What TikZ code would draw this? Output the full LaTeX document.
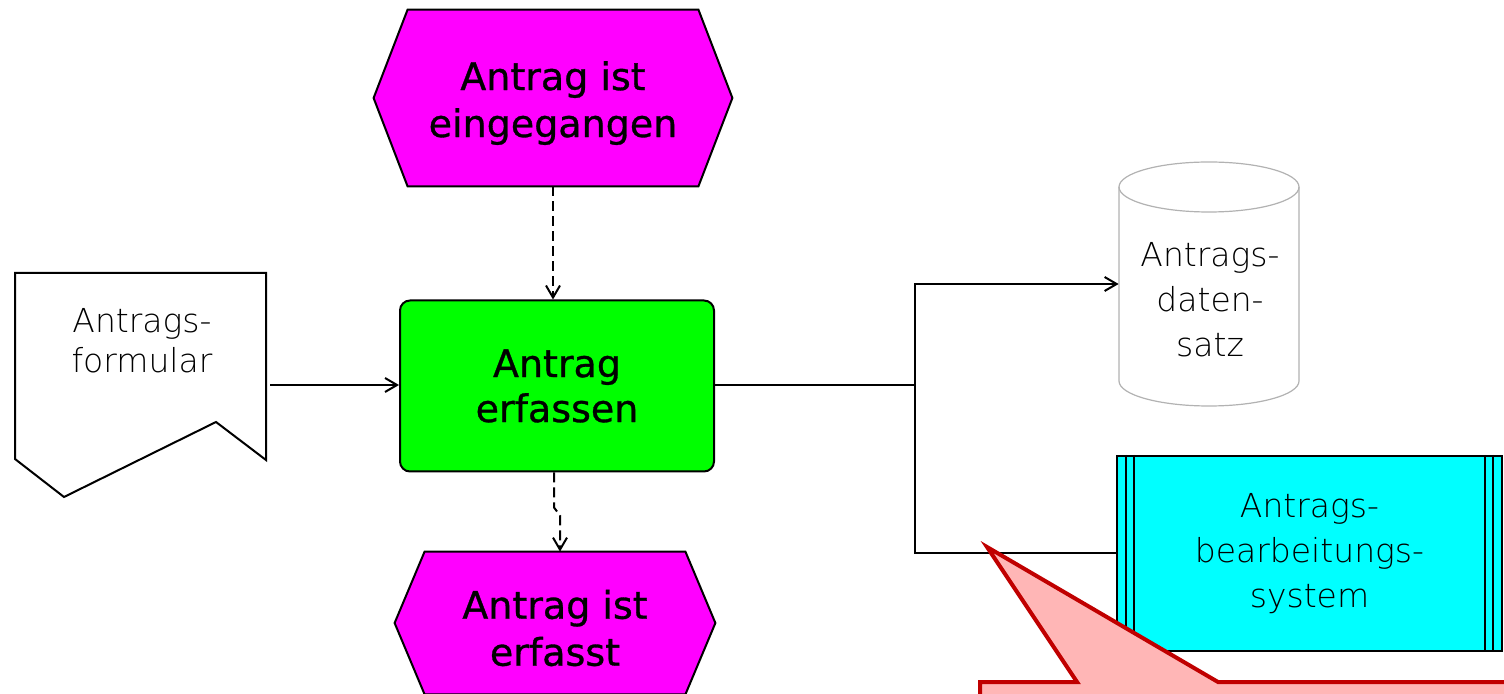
\documentclass[tikz,border=0pt]{standalone}
\usepackage{fontspec}
\setmainfont{DejaVu Sans}
\newfontfamily\evfont{DejaVu Sans}[FakeBold=0.8]
\newfontfamily\thinfont{DejaVu Sans ExtraLight}
\usetikzlibrary{arrows.meta,backgrounds}
\definecolor{evmagenta}{RGB}{255,0,255}
\definecolor{fngreen}{RGB}{0,255,0}
\definecolor{syscyan}{RGB}{0,255,255}
\definecolor{notered}{RGB}{192,0,0}
\definecolor{notepink}{RGB}{255,182,182}
\begin{document}
\begin{tikzpicture}[x=0.5pt,y=-0.5pt,
  flow/.style={line width=1pt, -{Straight Barb[length=6pt,width=7pt]}},
  ctrl/.style={flow, dash pattern=on 5pt off 2.5pt},
  evtext/.style={align=center, inner sep=0pt, font=\evfont\fontsize{19}{23.5}\selectfont},
  thintext/.style={align=center, inner sep=0pt, font=\thinfont\fontsize{16.5}{22.5}\selectfont}]
  \useasboundingbox (0,0) rectangle (1504,694);
  \clip (0,0) rectangle (1504,694);
  % events
  \node[evtext, text height=43pt, minimum width=145pt, minimum height=88pt] (start) at (553,98) {Antrag ist\\eingegangen};
  \node[evtext, text height=43pt, minimum width=130pt, minimum height=71pt] (done) at (555,623) {Antrag ist\\erfasst};
  \begin{scope}[on background layer]
    \draw[line width=1pt, fill=evmagenta] (start.north west) -- (start.north east) -- ([xshift=17pt]start.east)
      -- (start.south east) -- (start.south west) -- ([xshift=-17pt]start.west) -- cycle;
    \draw[line width=1pt, fill=evmagenta] (done.north west) -- (done.north east) -- ([xshift=15pt]done.east)
      -- (done.south east) -- (done.south west) -- ([xshift=-15pt]done.west) -- cycle;
  \end{scope}
  % function
  \node[evtext, font=\evfont\fontsize{19}{22.5}\selectfont, draw, line width=1pt, fill=fngreen, rounded corners=5pt,
    minimum width=157pt, minimum height=85.5pt] (fn) at (557,386) {Antrag\\erfassen};
  % document
  \node[minimum width=125.5pt, minimum height=93.5pt, inner sep=0pt] (doc) at (140.5,366.5) {};
  \node[thintext, font=\thinfont\fontsize{16.5}{20}\selectfont] (doclabel) at (142,341) {Antrags-\\formular};
  \begin{scope}[on background layer]
    \draw[line width=1pt, fill=white] (15,273) -- (266,273) -- (266,460) -- (216,422) -- (64,497) -- (15,459) -- cycle;
  \end{scope}
  % data
  \node[minimum width=90pt, minimum height=97pt, inner sep=0pt] (dataset) at (1209,284) {};
  \node[thintext] (dslabel) at (1210,300) {Antrags-\\daten-\\satz};
  \begin{scope}[on background layer]
    \draw[gray!60, line width=0.6pt, fill=white] (1119,187) -- (1119,381)
      arc[start angle=180, end angle=360, x radius=45pt, y radius=12.5pt] -- (1299,187);
    \draw[gray!60, line width=0.6pt] (1209,187) ellipse[x radius=45pt, y radius=12.5pt];
  \end{scope}
  % application system
  \node[thintext, draw, line width=1pt, fill=syscyan, minimum width=192.5pt, minimum height=97.5pt] (system)
    at (1309.5,553.5) {Antrags-\\bearbeitungs-\\system};
  \foreach \s in {5,9} {
    \draw[line width=1pt] ([xshift=\s pt]system.north west) -- ([xshift=\s pt]system.south west);
    \draw[line width=1pt] ([xshift=-\s pt]system.north east) -- ([xshift=-\s pt]system.south east);
  }
  % connectors
  \coordinate (branch) at (915,385);
  \draw[ctrl] (start.south) -- (start.south |- fn.north);
  \draw[ctrl] ([xshift=-1.5pt]fn.south) -- ++(0,35) -- ++(6,8) -- ([xshift=1.5pt]fn.south |- done.north);
  \draw[flow] ([xshift=2pt]doc.east |- branch) -- (fn.west |- branch);
  \draw[line width=1pt] (fn.east |- branch) -- (branch);
  \draw[flow] (branch) |- (dataset.west);
  \draw[line width=1pt] (branch) |- (system.west);
  % callout
  \draw[line width=2pt, draw=notered, fill=notepink] (980,682) -- (1077,682) -- (987,547) -- (1218,682)
    -- (1560,682) -- (1560,760) -- (980,760) -- cycle;
\end{tikzpicture}
\end{document}
